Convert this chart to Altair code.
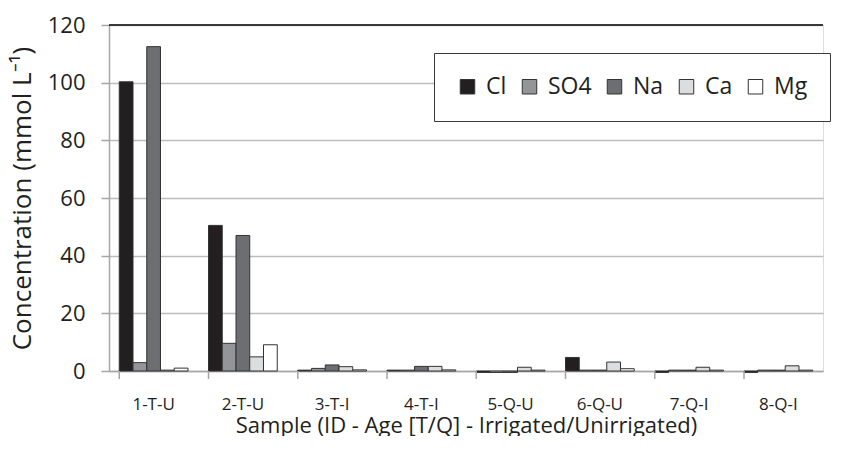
import altair as alt
import pandas as pd

samples = ["1-T-U", "2-T-U", "3-T-I", "4-T-I", "5-Q-U", "6-Q-U", "7-Q-I", "8-Q-I"]
ions = ["Cl", "SO4", "Na", "Ca", "Mg"]
cl = [100.3, 50.5, 0.3, 0.3, -0.5, 4.7, -0.5, -0.5]
so4 = [2.9, 9.6, 0.9, 0.3, -0.5, 0.3, 0.3, 0.3]
na = [112.5, 47.0, 2.1, 1.6, -0.5, 0.3, 0.3, 0.3]
ca = [0.3, 4.9, 1.5, 1.6, 1.3, 3.1, 1.3, 1.8]
mg = [1.0, 9.1, 0.4, 0.4, 0.3, 0.8, 0.3, 0.3]
colors = ["#231f20", "#939598", "#6d6e71", "#dcddde", "#ffffff"]

series = {"Cl": cl, "SO4": so4, "Na": na, "Ca": ca, "Mg": mg}
rows = []
for ion in ions:
    for s, v in zip(samples, series[ion]):
        rows.append({"sample": s, "ion": ion, "value": v})
df = pd.DataFrame(rows)
cats = pd.DataFrame({"sample": samples})

FONT = "Open Sans"
W, H = 714, 346

xscale = alt.Scale(domain=samples, paddingInner=0.23, paddingOuter=0.115)
yscale = alt.Scale(domain=[0, 120], nice=False, zero=True)

bars = alt.Chart(df).mark_bar(stroke="#333333", strokeWidth=1).encode(
    x=alt.X("sample:N", scale=xscale, sort=samples,
            axis=alt.Axis(title="Sample (ID - Age [T/Q]  - Irrigated/Unirrigated)",
                          labelAngle=0, ticks=False, labelPadding=25,
                          labelFontSize=17, titleFontSize=22, titlePadding=3,
                          domainColor="#a6a6a6", domainWidth=1.5,
                          labelColor="#231f20", titleColor="#231f20",
                          labelFont=FONT, titleFont=FONT, titleFontWeight="normal")),
    xOffset=alt.XOffset("ion:N", sort=ions, scale=alt.Scale(domain=ions, paddingInner=0, paddingOuter=0)),
    y=alt.Y("value:Q", scale=yscale,
            axis=alt.Axis(title="Concentration (mmol L\u207b\u00b9)", values=[0, 20, 40, 60, 80, 100, 120],
                          tickSize=8, labelPadding=16, labelFontSize=22, titleFontSize=26,
                          titlePadding=12, domainColor="#a6a6a6", domainWidth=1.5,
                          tickColor="#a6a6a6", tickWidth=1.5,
                          gridColor="#bdbdbd", gridWidth=1.5,
                          labelColor="#231f20", titleColor="#231f20",
                          labelFont=FONT, titleFont=FONT, titleFontWeight="normal")),
    color=alt.Color("ion:N", sort=ions, scale=alt.Scale(domain=ions, range=colors),
                    legend=alt.Legend(title=None, orient="none", legendX=325, legendY=28,
                                      direction="horizontal", strokeColor="#3a3a3a",
                                      fillColor="#ffffff", padding=22,
                                      symbolType="square", symbolSize=210,
                                      symbolStrokeColor="#333333", symbolStrokeWidth=1,
                                      labelFontSize=23, labelFont=FONT, labelColor="#231f20",
                                      labelOffset=7, columnPadding=11)),
)

toprule = alt.Chart(cats).mark_rule(color="#3a3a3a", strokeWidth=1.5).encode(
    y=alt.Y(datum=120, scale=yscale)
)

xticks = alt.Chart(cats).mark_rule(color="#a6a6a6", strokeWidth=1.5).encode(
    x=alt.X("sample:N", scale=xscale, sort=samples, bandPosition=0),
    y=alt.value(H),
    y2=alt.value(H + 8),
)

chart = alt.layer(bars, toprule, xticks).properties(
    width=W, height=H,
    padding={"left": 1, "top": 6, "right": 0, "bottom": 0},
).configure_view(stroke=None).configure(background="#ffffff")

chart.save("out.html", embed_options={"renderer": "svg", "actions": False})
